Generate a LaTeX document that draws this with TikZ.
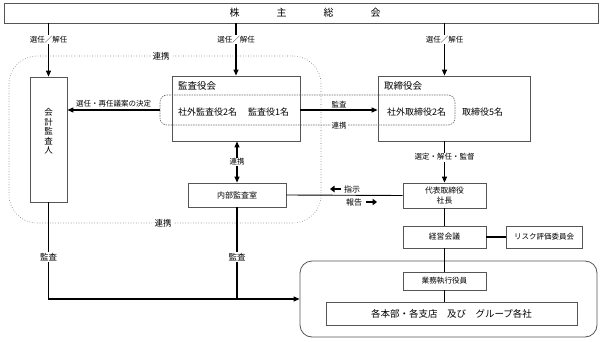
\documentclass[tikz,border=0pt]{standalone}
\usepackage{fontspec}
\setmainfont{Noto Sans CJK JP}
\usetikzlibrary{arrows.meta}
\definecolor{boxgray}{RGB}{85,85,85}
\definecolor{dotgray}{RGB}{110,110,110}
\begin{document}
\begin{tikzpicture}[x=1pt,y=-1pt,
  box/.style={draw=boxgray,line width=0.8pt,fill=white,inner sep=0pt,minimum width=#1},
  conn/.style={draw=black,line width=1.1pt},
  arr/.style={conn,-{Triangle[length=6pt,width=5pt]}},
  lbl/.style={font=\fontsize{7.5}{8}\selectfont,fill=white,inner sep=1pt},
  lblb/.style={font=\fontsize{8.5}{9}\selectfont,fill=white,inner sep=1pt},
  txt/.style={font=\fontsize{#1}{#1}\selectfont,inner sep=0pt},
  blockarr/.style={line width=2.2pt,-{Triangle[length=4.5pt,width=6.5pt]}}
]
\useasboundingbox (0,0) rectangle (602,342);
\fill[white] (0,0) rectangle (602,342);

% boxes
\node[box=594pt,minimum height=20pt] (gm) at (301,13) {};
\node[txt=10] (gmtext) at (305,13) {株\hspace{37pt}主\hspace{37pt}総\hspace{37pt}会};
\node[box=37pt,minimum height=125pt] (kaikei) at (48.5,139.5) {};
\node[txt=8.5,align=center,font=\fontsize{8.5}{9.5}\selectfont] (kaikeitext) at (48.5,131.5) {会\\計\\監\\査\\人};
\node[box=128pt,minimum height=65pt] (kansayaku) at (236,108.5) {};
\node[box=152pt,minimum height=65pt] (torishimari) at (454,108.5) {};
\node[box=98pt,minimum height=24pt,font=\fontsize{8}{9}\selectfont] (naibu) at (237,195) {内部監査室};
\node[box=83pt,minimum height=25pt,align=center,font=\fontsize{7.8}{10.5}\selectfont] (daihyo) at (444.5,195.5) {代表取締役\\社長};
\node[box=83pt,minimum height=22pt,font=\fontsize{7.8}{9}\selectfont] (keiei) at (444.5,237) {経営会議};
\node[box=76pt,minimum height=22pt,font=\fontsize{7.5}{9}\selectfont] (risk) at (544,237) {リスク評価委員会};
\node[draw=boxgray,line width=0.8pt,rounded corners=12pt,minimum width=297pt,minimum height=76pt,inner sep=0pt] (group) at (448.5,299) {};
\node[box=83pt,minimum height=18pt,font=\fontsize{7.6}{9}\selectfont] (gyomu) at (444.5,281) {業務執行役員};
\node[box=251pt,minimum height=23pt,font=\fontsize{9.5}{10}\selectfont] (honbu) at (451.5,313.5) {各本部・各支店　及び　グループ各社};

% box texts
\node[txt=9.5,anchor=west] (kstitle) at (178,86) {監査役会};
\node[txt=9,anchor=west] (ks1) at (178,112) {社外監査役2名};
\node[txt=9,anchor=west] (ks2) at (248,112) {監査役1名};
\node[txt=9.5,anchor=west] (tstitle) at (384,86) {取締役会};
\node[txt=9,anchor=west] (ts1) at (387,112) {社外取締役2名};
\node[txt=9,anchor=west] (ts2) at (462,112) {取締役5名};

% dotted / dashed groupings
\node[draw=dotgray,line width=0.6pt,dotted,rounded corners=28pt,minimum width=312pt,minimum height=167pt,inner sep=0pt] (coop) at (165,139.5) {};
\node[draw=dotgray,line width=0.6pt,dash pattern=on 1.5pt off 1pt,rounded corners=7pt,minimum width=295pt,minimum height=30pt,inner sep=0pt] (outside) at (307.5,110) {};
\node[lblb] (coopt) at (161,56) {連携};
\node[lblb] (coopb) at (163,223) {連携};

% arrows from general meeting
\draw[arr] (gm.south -| kaikei.north) -- (kaikei.north) node[lbl,pos=0.31] {選任／解任};
\draw[arr] (gm.south -| kansayaku.north) -- (kansayaku.north) node[lbl,pos=0.31] {選任／解任};
\draw[arr] (gm.south -| daihyo.north) -- (torishimari.north -| daihyo.north) node[lbl,pos=0.31] {選任／解任};

% audit board relations
\draw[arr] (outside.west) -- (outside.west -| kaikei.east) node[lbl,midway,above=1pt,fill=none] {選任・再任議案の決定};
\draw[arr] (kansayaku.east |- outside.center) -- (torishimari.west |- outside.center) node[lbl,midway,above=1pt,fill=none] {監査};
\path (kansayaku.east |- outside.south) -- (torishimari.west |- outside.south) node[lbl,midway] {連携};
\draw[conn,{Triangle[length=6pt,width=5pt]}-{Triangle[length=6pt,width=5pt]}] (kansayaku.south -| naibu.north) -- (naibu.north) node[lbl,midway] {連携};
\draw[arr] (torishimari.south -| daihyo.north) -- (daihyo.north) node[lbl,pos=0.38] {選定・解任・監督};

% internal audit <-> president
\draw[conn,line width=0.9pt] (naibu.east) -- (daihyo.west);
\coordinate (a1s) at (341,189); \coordinate (a1e) at (330,189);
\coordinate (a2s) at (366,202); \coordinate (a2e) at (377,202);
\draw[blockarr] (a1s) -- (a1e);
\draw[blockarr] (a2s) -- (a2e);
\node[txt=8] (shiji) at (352,189) {指示};
\node[txt=8] (hokoku) at (354,202) {報告};

% executive chain
\draw[conn] (daihyo.south) -- (keiei.north);
\draw[conn] (keiei.east) -- (risk.west);
\draw[conn] (keiei.south) -- (gyomu.north);
\draw[conn] (gyomu.south) -- (gyomu.south |- honbu.north);

% audits
\draw[arr] (kaikei.south) |- (group.west);
\draw[conn] (naibu.south) -- (naibu.south |- group.west);
\node[lblb] (kansa1) at (48.5,257) {監査};
\node[lblb] (kansa2) at (237,257) {監査};
\end{tikzpicture}
\end{document}
